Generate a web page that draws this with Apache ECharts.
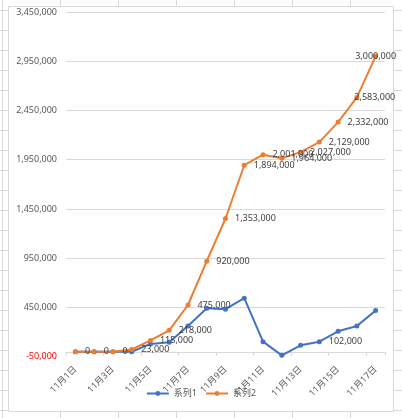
<!DOCTYPE html>
<html><head><meta charset="utf-8">
<script src="https://cdn.jsdelivr.net/npm/echarts@6/dist/echarts.min.js"></script>
<style>html,body{margin:0;padding:0;background:#fff}#c{width:402px;height:418px}</style>
</head><body><div id="c"></div>
<script>
// ---- data ----
const categories = ['11月1日','11月2日','11月3日','11月4日','11月5日','11月6日','11月7日','11月8日','11月9日','11月10日','11月11日','11月12日','11月13日','11月14日','11月15日','11月16日','11月17日'];
const seriesNames = ['系列1','系列2'];
const series1Values = [0,0,0,0,80000,97000,262000,442000,432000,544000,103000,-36000,66000,102000,208000,262000,418000];
const series2Values = [0,0,0,23000,115000,218000,475000,920000,1353000,1894000,2001000,1964000,2027000,2129000,2332000,2583000,3000000];
const series1LabeledIdx = [13];
const yMin = -50000, yMax = 3450000, yStep = 500000;

// ---- chart ----
const FONT = "'Noto Sans','Noto Sans CJK SC',sans-serif";
const fmt = v => Number(v).toLocaleString('en-US');
const chart = echarts.init(document.getElementById('c'), null, {renderer:'canvas'});

// spreadsheet background lines
const bg = [];
[2.5,60.5,118.5,176.5,234.5,292.5,350.5].forEach(x => bg.push({type:'line', shape:{x1:x,y1:0,x2:x,y2:418}, style:{stroke:'#d9d9d9',lineWidth:1}, z:-20, silent:true}));
for (let y = 10.5; y < 418; y += 20) bg.push({type:'line', shape:{x1:0,y1:y,x2:402,y2:y}, style:{stroke:'#d9d9d9',lineWidth:1}, z:-20, silent:true});
bg.push({type:'rect', shape:{x:8.5,y:6.5,width:385,height:405}, style:{fill:'#fff',stroke:'#d9d9d9',lineWidth:1}, z:-10, silent:true});

const s2Data = series2Values.map((v,i) => {
  const d = {value:v};
  if (i === series2Values.length - 2) d.label = {position:'right', distance:-5};
  if (i === series2Values.length - 1) d.label = {position:'inside'};
  return d;
});
const s1Data = series1Values.map((v,i) => series1LabeledIdx.includes(i) ? {value:v, label:{show:true}} : {value:v});

const gridLineColors = [];
for (let v = yMin; v <= yMax; v += yStep) gridLineColors.push(v === yMin ? 'rgba(0,0,0,0)' : '#d9d9d9');

chart.setOption({
  animation:false,
  backgroundColor:'#fff',
  textStyle:{fontFamily:FONT},
  graphic: bg,
  grid:{left:66, right:17, top:12, bottom:61.3, containLabel:false},
  legend:{
    bottom:15, left:'center', itemWidth:22, itemHeight:6, itemGap:8,
    textStyle:{color:'#595959', fontSize:9, fontFamily:FONT},
    data: seriesNames
  },
  xAxis:{
    type:'category', data:categories, boundaryGap:true,
    axisLine:{onZero:true, lineStyle:{color:'#d9d9d9', width:1}},
    axisTick:{show:true, length:4, lineStyle:{color:'#d9d9d9'}},
    axisLabel:{interval:1, rotate:45, margin:11, color:'#595959', fontSize:9, fontFamily:FONT},
    splitLine:{show:false}
  },
  yAxis:{
    type:'value', min:yMin, max:yMax, interval:yStep,
    axisLine:{show:false}, axisTick:{show:false},
    axisLabel:{margin:9, fontSize:9, fontFamily:FONT, formatter:v => fmt(v), color:(v) => Number(v) < 0 ? '#FF0000' : '#595959'},
    splitLine:{lineStyle:{color:gridLineColors, width:1}}
  },
  series:[
    {name:seriesNames[0], type:'line', data:s1Data, symbol:'circle', symbolSize:5,
     itemStyle:{color:'#4472C4'}, lineStyle:{color:'#4472C4', width:2},
     label:{show:false, position:'right', distance:7, color:'#404040', fontSize:9, fontFamily:FONT, formatter:p => fmt(p.value)}},
    {name:seriesNames[1], type:'line', data:s2Data, symbol:'circle', symbolSize:5,
     itemStyle:{color:'#ED7D31'}, lineStyle:{color:'#ED7D31', width:2},
     label:{show:true, position:'right', distance:7, color:'#404040', fontSize:9, fontFamily:FONT, formatter:p => fmt(p.value)}}
  ]
});
</script>
</body></html>
